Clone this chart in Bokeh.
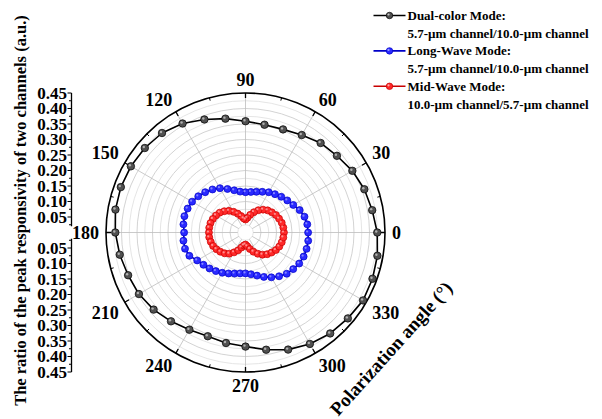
import numpy as np
from bokeh.plotting import figure
from bokeh.models import Label, Range1d
from bokeh.embed import file_html
from bokeh.resources import INLINE
from bokeh.core.properties import value

# ---------------------------------------------------------------- data
# polarization angle (deg) and peak-responsivity ratio of the two channels
dual_angle = list(range(0, 360, 10))
dual_ratio = [0.425, 0.415, 0.408, 0.398, 0.385, 0.377, 0.363, 0.354, 0.353, 0.359,
              0.373, 0.388, 0.406, 0.419, 0.424, 0.427, 0.428, 0.426, 0.420, 0.412,
              0.403, 0.397, 0.387, 0.374, 0.362, 0.356, 0.362, 0.368, 0.384, 0.402,
              0.415, 0.425, 0.431, 0.438, 0.436, 0.432]

long_angle = [i * 7.5 for i in range(48)]
long_ratio = [0.202, 0.201, 0.197, 0.189, 0.178, 0.170, 0.163, 0.156, 0.150, 0.142,
              0.136, 0.132, 0.130, 0.133, 0.141, 0.152, 0.165, 0.175, 0.184, 0.192,
              0.199, 0.202, 0.204, 0.202,
              0.198, 0.202, 0.202, 0.196, 0.180, 0.171, 0.164, 0.157, 0.150, 0.143,
              0.137, 0.133, 0.132, 0.136, 0.144, 0.155, 0.167, 0.178, 0.188, 0.194,
              0.200, 0.203, 0.204, 0.204]

mid_angle = [i * 7.5 for i in range(48)]
mid_ratio = [0.124, 0.123, 0.121, 0.117, 0.113, 0.107, 0.101, 0.093, 0.083, 0.071,
             0.059, 0.048, 0.042, 0.046, 0.055, 0.066, 0.077, 0.088, 0.097, 0.105,
             0.110, 0.114, 0.117, 0.118,
             0.118, 0.118, 0.116, 0.113, 0.108, 0.102, 0.095, 0.086, 0.074, 0.062,
             0.050, 0.042, 0.039, 0.045, 0.055, 0.067, 0.079, 0.090, 0.099, 0.106,
             0.113, 0.118, 0.121, 0.123]

angle_ticks = [0, 30, 60, 90, 120, 150, 180, 210, 240, 270, 300, 330]
radial_ticks = [0.05, 0.10, 0.15, 0.20, 0.25, 0.30, 0.35, 0.40, 0.45]
radial_labels = ["0.05", "0.10", "0.15", "0.20", "0.25", "0.30", "0.35", "0.40", "0.45"]

legend_titles = ["Dual-color Mode:", "Long-Wave Mode:", "Mid-Wave Mode:"]
legend_subtitles = ["5.7-\u00b5m channel/10.0-\u00b5m channel",
                    "5.7-\u00b5m channel/10.0-\u00b5m channel",
                    "10.0-\u00b5m channel/5.7-\u00b5m channel"]

# ---------------------------------------------------------------- layout
W, H = 602, 419
CX, CY = 245, 232          # pole position on the canvas (px, from top-left)
PPU = 310.0                # pixels per ratio unit
R_MAX = 0.45
FONT = value("Liberation Serif")


def px(x, y):
    """canvas pixel -> data coordinates"""
    return (x - CX) / PPU, (CY - y) / PPU


def polar(r, deg):
    r = np.asarray(r, float)
    t = np.deg2rad(np.asarray(deg, float))
    return r * np.cos(t), r * np.sin(t)


p = figure(width=W, height=H, output_backend="svg", toolbar_location=None,
           x_range=Range1d(-CX / PPU, (W - CX) / PPU),
           y_range=Range1d(-(H - CY) / PPU, CY / PPU),
           x_axis_location=None, y_axis_location=None, min_border=0)
p.grid.visible = False
p.outline_line_color = None
p.background_fill_color = "white"
p.border_fill_color = "white"

# ---------------------------------------------------------------- polar grid
minor_r = [0.025 + 0.05 * i for i in range(9)]
major_r = [0.05 * i for i in range(1, 9)]
p.circle(x=[0] * len(minor_r), y=[0] * len(minor_r), radius=minor_r,
         fill_color=None, line_color="#dedede", line_width=0.8)
p.circle(x=[0] * len(major_r), y=[0] * len(major_r), radius=major_r,
         fill_color=None, line_color="#c8c8c8", line_width=0.8)

x0, y0 = polar([0.025] * 12, angle_ticks)
x1, y1 = polar([R_MAX] * 12, angle_ticks)
p.segment(x0=x0, y0=y0, x1=x1, y1=y1, line_color="#bdbdbd", line_width=0.8)

# outer boundary with inward ticks
p.circle(x=[0], y=[0], radius=[R_MAX], fill_color=None, line_color="black",
         line_width=1.6)
maj_len, min_len = 5 / PPU, 3 / PPU
mx0, my0 = polar([R_MAX] * 12, angle_ticks)
mx1, my1 = polar([R_MAX - maj_len] * 12, angle_ticks)
p.segment(x0=mx0, y0=my0, x1=mx1, y1=my1, line_color="black", line_width=1.3)
minor_ang = [a + 15 for a in angle_ticks]
nx0, ny0 = polar([R_MAX] * 12, minor_ang)
nx1, ny1 = polar([R_MAX - min_len] * 12, minor_ang)
p.segment(x0=nx0, y0=ny0, x1=nx1, y1=ny1, line_color="black", line_width=1.0)

# angle labels
gap = R_MAX + 7 / PPU
for a in angle_ticks:
    c, s = np.cos(np.deg2rad(a)), np.sin(np.deg2rad(a))
    align = "left" if c > 0.3 else ("right" if c < -0.3 else "center")
    base = "bottom" if s > 0.3 else ("top" if s < -0.3 else "middle")
    p.text(x=[gap * c], y=[gap * s], text=[str(a)], text_align=align,
           text_baseline=base, text_font=FONT, text_font_style="bold",
           text_font_size="18px", text_color="black")

# ---------------------------------------------------------------- series
def ball_series(ang, rat, fill, edge, shine, size):
    xs, ys = polar(rat, ang)
    xl, yl = np.append(xs, xs[0]), np.append(ys, ys[0])
    p.line(xl, yl, line_color=edge, line_width=1.6)
    p.scatter(xs, ys, size=size, fill_color=fill, line_color=edge, line_width=0.7)
    p.scatter(xs - 1.0 / PPU, ys + 1.0 / PPU, size=size * 0.32,
              fill_color=shine, line_color=None, fill_alpha=0.8)


ball_series(dual_angle, dual_ratio, "#505050", "black", "#c8c8c8", 7.5)
ball_series(long_angle, long_ratio, "#2a2aff", "#0000c8", "#9c9cff", 7)
ball_series(mid_angle, mid_ratio, "#ff2a2a", "#c80000", "#ffaaaa", 7)

# ---------------------------------------------------------------- radial scale (split, to the left)
ax_x = px(71, 0)[0]
for sign in (1, -1):
    p.segment(x0=[ax_x], y0=[sign * R_MAX], x1=[ax_x], y1=[sign * 0.02],
              line_color="black", line_width=1.3)
    ty = [sign * t for t in radial_ticks]
    p.segment(x0=[ax_x] * len(ty), y0=ty, x1=[ax_x - 4 / PPU] * len(ty), y1=ty,
              line_color="black", line_width=1.2)
    my = [sign * (t - 0.025) for t in radial_ticks]
    p.segment(x0=[ax_x] * len(my), y0=my, x1=[ax_x - 2.5 / PPU] * len(my), y1=my,
              line_color="black", line_width=1.0)
    p.text(x=[ax_x - 4.5 / PPU] * len(ty), y=ty, text=radial_labels,
           text_align="right", text_baseline="middle", text_font=FONT,
           text_font_style="bold", text_font_size="17px", text_color="black")

p.add_layout(Label(x=20, y=H - 210, x_units="screen", y_units="screen",
                   text="The ratio of the peak responsivity of two channels (a.u.)",
                   angle=np.pi / 2, text_align="center", text_baseline="middle",
                   text_font="Liberation Serif", text_font_style="bold",
                   text_font_size="16.5px", text_color="black"))

p.add_layout(Label(x=333, y=H - 412, x_units="screen", y_units="screen",
                   text="Polarization angle (\u00b0)", angle=np.deg2rad(48),
                   text_align="left", text_baseline="alphabetic",
                   text_font="Liberation Serif", text_font_style="bold",
                   text_font_size="19px", text_color="black"))

# ---------------------------------------------------------------- legend
legend_style = [("#505050", "black", "#c8c8c8"),
                ("#2a2aff", "#0000c8", "#9c9cff"),
                ("#ff2a2a", "#c80000", "#ffaaaa")]
for i, (fill, edge, shine) in enumerate(legend_style):
    row = 15 + 35.4 * i
    (lx0, ly), (lx1, _) = px(373, row), px(405, row)
    mxp, _ = px(389, row)
    p.line([lx0, lx1], [ly, ly], line_color=edge, line_width=1.6)
    p.scatter([mxp], [ly], size=6.5, fill_color=fill, line_color=edge, line_width=0.7)
    p.scatter([mxp - 1.0 / PPU], [ly + 1.0 / PPU], size=2.2, fill_color=shine,
              line_color=None)
    tx, ty1 = px(407, row)
    _, ty2 = px(407, row + 17.7)
    p.text(x=[tx, tx], y=[ty1, ty2], text=[legend_titles[i], legend_subtitles[i]],
           text_align="left", text_baseline="middle", text_font=FONT,
           text_font_style="bold", text_font_size="13px", text_color="black")

open("out.html", "w").write(file_html(p, INLINE))
